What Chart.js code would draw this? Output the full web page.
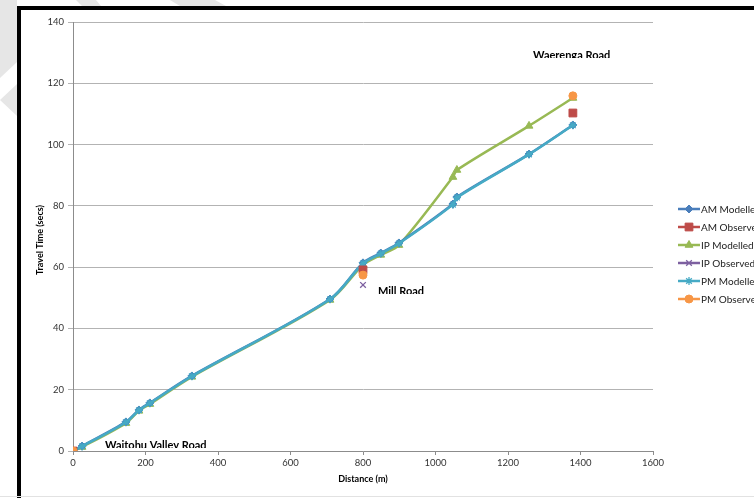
<!DOCTYPE html>
<html>
<head>
<meta charset="utf-8">
<script src="https://cdn.jsdelivr.net/npm/chart.js@4/dist/chart.umd.min.js"></script>
<style>
  html, body { margin: 0; padding: 0; background: #fff; }
  body { width: 754px; height: 498px; position: relative; overflow: hidden; }
  #wm { position: absolute; left: 0; top: 0; }
  #frame { position: absolute; left: 17px; top: 6px; width: 760px; height: 520px;
           border-top: 4px solid #000; border-left: 4px solid #000; background: #fff; }
  #bottomline { position: absolute; left: 0; top: 496px; width: 754px; height: 1px; background: #e2e2e2; }
  #wrap { position: absolute; left: 0; top: 0; width: 754px; height: 498px; }
</style>
</head>
<body>
<svg id="wm" width="754" height="498">
  <polygon points="0,0 17,0 17,62 0,78" fill="#e6e6e6"/>
  <polygon points="0,100 17,84 17,116" fill="#e6e6e6"/>
  <polygon points="76,0 96,0 101,6 82,6" fill="#e6e6e6"/>
  <polygon points="170,0 215,0 226,6 180,6" fill="#e6e6e6"/>
</svg>
<div id="frame"></div>
<div id="bottomline"></div>
<div id="wrap"><canvas id="c" width="754" height="498"></canvas></div>
<script>
// ---- data ----
const distance    = [0, 25, 146, 182, 212, 328, 709, 800, 849, 899, 1048, 1059, 1258, 1379];
const amModelled  = [0, 1.6, 9.5, 13.4, 15.7, 24.5, 49.6, 61.4, 64.6, 67.9, 80.6, 82.9, 96.9, 106.4];
const ipModelled  = [0, 1.3, 9.1, 13.1, 15.3, 24.2, 49.3, 60.7, 64.0, 67.2, 89.4, 91.7, 106.1, 115.2];
const pmModelled  = [0, 1.5, 9.4, 13.3, 15.6, 24.4, 49.5, 61.2, 64.4, 67.7, 80.4, 82.7, 96.8, 106.3];
const obsDistance = [0, 800, 1379];
const amObserved  = [0, 59.1, 110.3];
const ipObserved  = [0, 54.2, null];
const pmObserved  = [0, 57.4, 115.9];
const seriesNames = ["AM Modelled", "AM Observed", "IP Modelled", "IP Observed", "PM Modelled", "PM Observed"];
const roadLabels  = [
  { text: "Waitohu Valley Road", x: 105, y: 448 },
  { text: "Mill Road", x: 378, y: 294 },
  { text: "Waerenga Road", x: 533, y: 58 }
];
const xTicksMax = 1600, yTicksMax = 140;

const pts = (xs, ys) => xs.map((x, i) => ({ x: x, y: ys[i] }));

const styles = [
  { color: "#4A7EBB", pointStyle: "rectRot", radius: 4, line: true },
  { color: "#BE4B48", pointStyle: "rect", radius: 5.5, line: false },
  { color: "#98B954", pointStyle: "triangle", radius: 4.5, line: true },
  { color: "#7D60A0", pointStyle: "crossRot", radius: 4, line: false },
  { color: "#46AAC5", pointStyle: "star", radius: 4, line: true },
  { color: "#F79646", pointStyle: "circle", radius: 4, line: false }
];
const dataSets = [
  pts(distance, amModelled), pts(obsDistance, amObserved), pts(distance, ipModelled),
  pts(obsDistance, ipObserved), pts(distance, pmModelled), pts(obsDistance, pmObserved)
];
const orders = [4, 1, 5, 2, 3, 0];

const datasets = seriesNames.map((name, i) => {
  const s = styles[i];
  return {
    label: name,
    data: dataSets[i],
    showLine: s.line,
    borderColor: s.color,
    backgroundColor: s.color,
    borderWidth: 2.5,
    tension: 0.3,
    pointStyle: s.pointStyle,
    pointRadius: s.radius,
    pointHoverRadius: s.radius,
    pointBorderWidth: (s.pointStyle === "crossRot" || s.pointStyle === "star") ? 1.3 : 1,
    pointBorderColor: s.color,
    pointBackgroundColor: s.color,
    order: orders[i]
  };
});

const FONT = "Lato, 'Open Sans', 'Liberation Sans', sans-serif";

const overlay = {
  id: "overlay",
  afterDraw(chart) {
    const ctx = chart.ctx;
    ctx.save();
    ctx.font = "bold 11px " + FONT;
    ctx.fillStyle = "#000";
    ctx.textBaseline = "alphabetic";
    roadLabels.forEach(l => {
      ctx.save();
      ctx.beginPath();
      ctx.rect(l.x - 2, l.y - 14, 200, 14);
      ctx.clip();
      ctx.fillText(l.text, l.x, l.y + 1);
      ctx.restore();
    });
    ctx.font = "bold 9px " + FONT;
    ctx.fillStyle = "#000";
    ctx.textAlign = "center";
    ctx.textBaseline = "middle";
    ctx.fillText("Distance (m)", 363, 479);
    ctx.save();
    ctx.translate(40, 240);
    ctx.rotate(-Math.PI / 2);
    ctx.fillText("Travel Time (secs)", 0, 0);
    ctx.restore();
    ctx.textAlign = "left";
    ctx.font = "10px " + FONT;
    seriesNames.forEach((name, i) => {
      const s = styles[i];
      const y = 209 + i * 18;
      ctx.strokeStyle = s.color;
      ctx.lineWidth = 2.5;
      ctx.beginPath();
      ctx.moveTo(678, y);
      ctx.lineTo(700, y);
      ctx.stroke();
      ctx.fillStyle = s.color;
      ctx.lineWidth = (s.pointStyle === "crossRot" || s.pointStyle === "star") ? 1.3 : 1;
      Chart.helpers.drawPoint(ctx, { pointStyle: s.pointStyle, rotation: 0, radius: s.radius, borderWidth: 1 }, 689, y);
      ctx.fillStyle = "#222";
      ctx.fillText(name, 701, y + 0.5);
    });
    ctx.restore();
  }
};

new Chart(document.getElementById("c"), {
  type: "scatter",
  data: { datasets: datasets },
  options: {
    responsive: false,
    animation: false,
    events: [],
    layout: { padding: { top: 22, right: 101, left: 0, bottom: 0 } },
    plugins: { legend: { display: false }, tooltip: { enabled: false } },
    scales: {
      x: {
        type: "linear",
        min: 0, max: xTicksMax,
        afterFit(scale) { scale.height = 47; },
        ticks: { stepSize: 200, color: "#333", font: { family: FONT, size: 9.5 }, padding: 2, maxRotation: 0,
                 callback: v => String(v) },
        grid: { drawOnChartArea: false, drawTicks: true, tickLength: 4, color: "#8c8c8c" },
        border: { color: "#8c8c8c", width: 1 }
      },
      y: {
        type: "linear",
        min: 0, max: yTicksMax,
        afterFit(scale) { scale.width = 73; },
        ticks: { stepSize: 20, color: "#333", font: { family: FONT, size: 9.5 }, padding: 4,
                 callback: v => String(v) },
        grid: { drawOnChartArea: true, drawTicks: true, tickLength: 5, color: "#b3b3b3" },
        border: { color: "#8c8c8c", width: 1 }
      }
    }
  },
  plugins: [overlay]
});
</script>
</body>
</html>
